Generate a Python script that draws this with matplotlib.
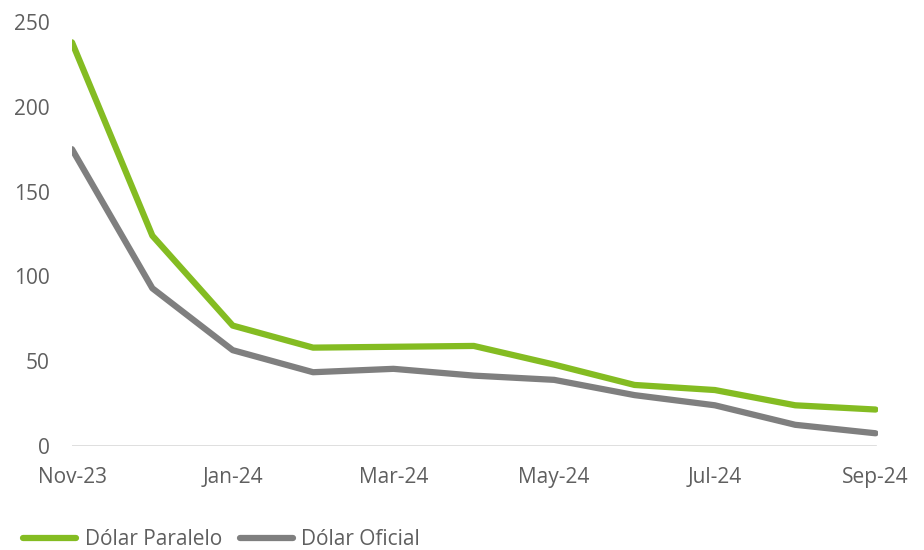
import matplotlib
matplotlib.use("Agg")
import matplotlib.pyplot as plt
from matplotlib.lines import Line2D

months = ["Nov-23", "Dec-23", "Jan-24", "Feb-24", "Mar-24", "Apr-24",
          "May-24", "Jun-24", "Jul-24", "Aug-24", "Sep-24"]
paralelo = [238, 124, 71, 58, 58.5, 59, 48, 36, 33, 24, 21.5]
oficial = [175, 93, 56.5, 43.5, 45.5, 41.5, 39, 30, 24, 12.5, 7.5]

green = "#84BC22"
grey = "#7F7F7F"
text_col = "#5F5F5F"

plt.rcParams["font.family"] = ["Open Sans", "DejaVu Sans"]

fig = plt.figure(figsize=(9.24, 5.5), dpi=100)
ax = fig.add_axes([72 / 924, 104 / 550, 806 / 924, 424 / 550])

x = list(range(len(months)))
ax.plot(x, paralelo, color=green, lw=4.5, solid_capstyle="round", solid_joinstyle="round", zorder=3)
ax.plot(x, oficial, color=grey, lw=4.5, solid_capstyle="round", solid_joinstyle="round", zorder=3)

ax.set_xlim(0, 10.03)
ax.set_ylim(0, 250)
ax.axhline(0, xmin=0, xmax=10.0 / 10.03, color="#D9D9D9", lw=1.2, zorder=1)

ax.set_yticks([0, 50, 100, 150, 200, 250])
ax.set_xticks(x[::2])
ax.set_xticklabels(months[::2])
ax.tick_params(axis="both", length=0, labelsize=15, colors=text_col)
ax.tick_params(axis="y", pad=16)
ax.tick_params(axis="x", pad=15)
for s in ax.spines.values():
    s.set_visible(False)

handles = [Line2D([], [], color=green, lw=4.5, solid_capstyle="round"),
           Line2D([], [], color=grey, lw=4.5, solid_capstyle="round")]
leg = fig.legend(handles, ["Dólar Paralelo", "Dólar Oficial"], loc="lower left",
                 bbox_to_anchor=(0.005, -0.034), ncol=2, frameon=False,
                 fontsize=15, handlelength=2.55, handletextpad=0.4, columnspacing=0.85)
for t in leg.get_texts():
    t.set_color(text_col)

fig.savefig("out.png", dpi=100)
